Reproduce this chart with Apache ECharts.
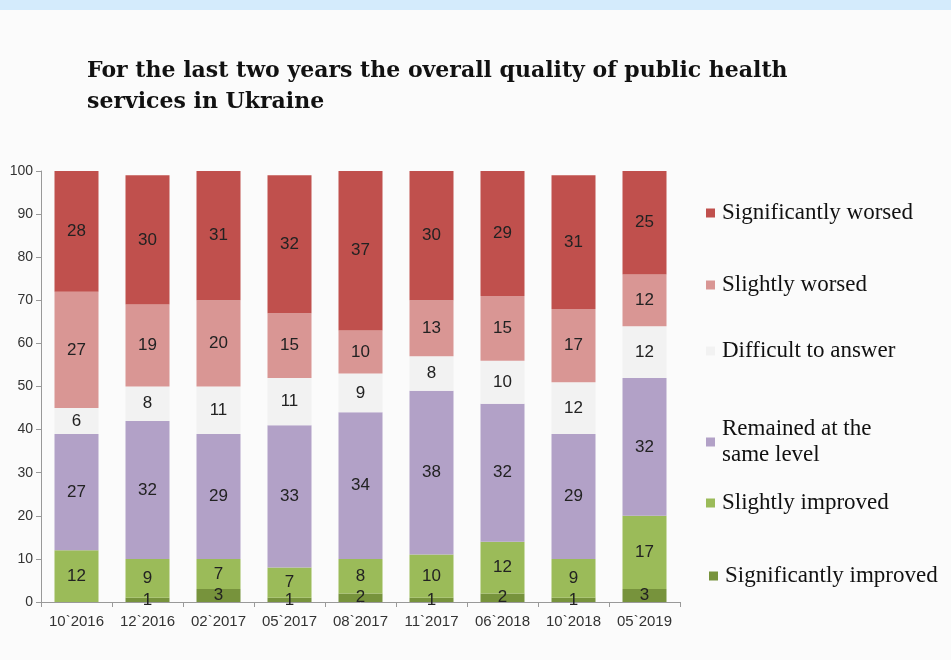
<!DOCTYPE html>
<html><head><meta charset="utf-8">
<script src="https://cdn.jsdelivr.net/npm/echarts@6/dist/echarts.min.js"></script>
<style>html,body{margin:0;padding:0;background:#fff}#c{width:951px;height:660px}</style>
</head><body><div id="c"></div>
<script>
const categories = ["10`2016","12`2016","02`2017","05`2017","08`2017","11`2017","06`2018","10`2018","05`2019"];
const sigImproved   = [0, 1, 3, 1, 2, 1, 2, 1, 3];
const slImproved    = [12, 9, 7, 7, 8, 10, 12, 9, 17];
const remained      = [27, 32, 29, 33, 34, 38, 32, 29, 32];
const difficult     = [6, 8, 11, 11, 9, 8, 10, 12, 12];
const slWorsed      = [27, 19, 20, 15, 10, 13, 15, 17, 12];
const sigWorsed     = [28, 30, 31, 32, 37, 30, 29, 31, 25];
const yTicks = [0,10,20,30,40,50,60,70,80,90,100];

const names = ["Significantly improved","Slightly improved","Remained at the same level","Difficult to answer","Slightly worsed","Significantly worsed"];
const colors = ["#77933c","#9bbb59","#b2a1c7","#f2f2f2","#d99694","#c0504d"];
const datas = [sigImproved, slImproved, remained, difficult, slWorsed, sigWorsed];

const series = names.map((n,i)=>({
  name:n, type:'bar', stack:'s', barWidth:44, data:datas[i],
  itemStyle:{color:colors[i]},
  label:{show:true, position:'inside', fontFamily:'Liberation Sans', fontSize:17, color:'#222',
    formatter:p=>p.value===0?'':p.value}
}));

const legendPos = [
  {name:"Significantly worsed", top:195, left:701},
  {name:"Slightly worsed", top:267, left:701},
  {name:"Difficult to answer", top:333, left:701},
  {name:"Remained at the same level", top:411, left:701},
  {name:"Slightly improved", top:485, left:701},
  {name:"Significantly improved", top:558, left:704}
];
const legends = legendPos.map(l=>({
  data:[l.name], top:l.top, left:l.left, itemWidth:9, itemHeight:9, itemGap:8,
  icon:'rect', selectedMode:false,
  formatter: n => n==="Remained at the same level" ? "Remained at the\nsame level" : n,
  textStyle:{fontFamily:'Liberation Serif', fontSize:23, color:'#111', lineHeight:26, padding:[0,0,0,2]}
}));

const chart = echarts.init(document.getElementById('c'));
chart.setOption({
  backgroundColor:'#fbfbfb',
  animation:false,
  title:{text:"For the last two years the overall quality of public health\nservices in Ukraine",
    left:82, top:51, textStyle:{fontFamily:'DejaVu Serif', fontWeight:'bold', fontSize:22, color:'#111', lineHeight:31}},
  legend:legends,
  grid:{left:41, right:271, top:171, bottom:58},
  xAxis:{type:'category', data:categories,
    axisLine:{lineStyle:{color:'#999'}},
    axisTick:{show:true, lineStyle:{color:'#999'}, length:5},
    axisLabel:{interval:0, fontFamily:'Liberation Sans', fontSize:15, color:'#333', margin:12}},
  yAxis:{type:'value', min:0, max:100, interval:10,
    axisLine:{show:true, lineStyle:{color:'#999'}},
    axisTick:{show:true, lineStyle:{color:'#999'}, length:5},
    splitLine:{show:false},
    axisLabel:{fontFamily:'Liberation Sans', fontSize:14, color:'#333', margin:8,
      formatter:v=>yTicks.includes(v)?String(v):''}},
  graphic:[{type:'rect', left:0, top:0, shape:{width:951, height:10}, style:{fill:'#d4ebfc'}, z:-1}],
  series:series
});
</script></body></html>
